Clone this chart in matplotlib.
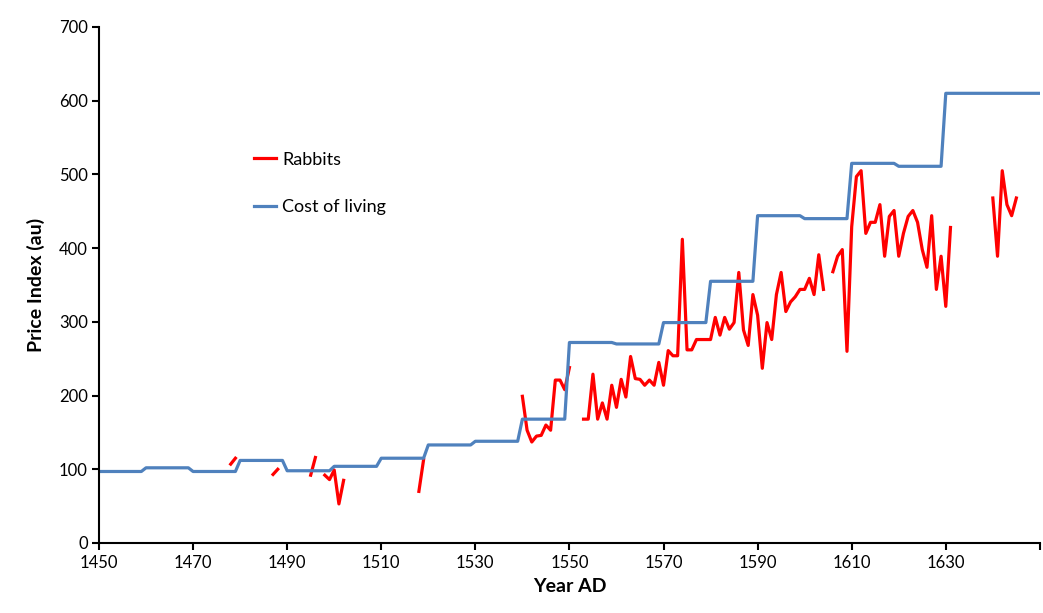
import numpy as np
import matplotlib
matplotlib.use("Agg")
import matplotlib.pyplot as plt

plt.rcParams['font.family'] = ['Lato', 'DejaVu Sans']

# Cost of living index: value held for each decade
cost_decades = [1450, 1460, 1470, 1480, 1490, 1500, 1510, 1520, 1530, 1540,
                1550, 1560, 1570, 1580, 1590, 1600, 1610, 1620, 1630, 1640, 1650]
cost_values = [97, 102, 97, 112, 98, 104, 115, 133, 138, 168,
               272, 270, 299, 355, 444, 440, 515, 511, 610, 610, 610]

# Rabbit price index (years with data; gaps where years are missing)
rabbit_years = [1478, 1479,
                1487, 1488,
                1495, 1496,
                1498, 1499, 1500, 1501, 1502,
                1518, 1519,
                1540, 1541, 1542, 1543, 1544, 1545, 1546, 1547, 1548, 1549, 1550,
                1553, 1554, 1555, 1556, 1557, 1558, 1559, 1560, 1561, 1562,
                1563, 1564, 1565, 1566, 1567, 1568, 1569, 1570, 1571, 1572,
                1573, 1574, 1575, 1576, 1577, 1578, 1579, 1580, 1581, 1582,
                1583, 1584, 1585, 1586, 1587, 1588, 1589, 1590, 1591, 1592,
                1593, 1594, 1595, 1596, 1597, 1598, 1599, 1600, 1601, 1602,
                1603, 1604,
                1606, 1607, 1608, 1609, 1610, 1611, 1612, 1613, 1614, 1615,
                1616, 1617, 1618, 1619, 1620, 1621, 1622, 1623, 1624, 1625,
                1626, 1627, 1628, 1629, 1630, 1631,
                1640, 1641, 1642, 1643, 1644, 1645]
rabbit_values = [107, 115,
                 93, 100,
                 92, 116,
                 92, 86, 99, 53, 85,
                 70, 113,
                 199, 153, 137, 145, 146, 160, 153, 221, 221, 208, 238,
                 168, 168, 229, 168, 190, 168, 214, 184, 222, 198,
                 253, 223, 222, 214, 221, 214, 245, 214, 261, 254,
                 254, 412, 262, 262, 276, 276, 276, 276, 306, 282,
                 306, 290, 299, 367, 289, 268, 337, 309, 237, 299,
                 276, 337, 367, 314, 327, 334, 344, 344, 359, 337,
                 391, 344,
                 368, 389, 398, 260, 429, 497, 505, 420, 435, 435,
                 459, 389, 443, 451, 389, 420, 443, 451, 435, 398,
                 374, 444, 344, 389, 321, 428,
                 468, 389, 505, 459, 444, 468]

x_ticks = [1450, 1470, 1490, 1510, 1530, 1550, 1570, 1590, 1610, 1630, 1650]
x_tick_labels = ['1450', '1470', '1490', '1510', '1530', '1550', '1570',
                 '1590', '1610', '1630', '']
y_ticks = [0, 100, 200, 300, 400, 500, 600, 700]

# build cost step line (value held through each decade, change over one year)
cx, cy = [], []
for i in range(len(cost_decades) - 1):
    cx += [cost_decades[i], cost_decades[i + 1] - 1]
    cy += [cost_values[i], cost_values[i]]
cx.append(cost_decades[-1])
cy.append(cost_values[-1])

# insert breaks in rabbit series where years are missing
rx, ry = [], []
for i, (yr, v) in enumerate(zip(rabbit_years, rabbit_values)):
    if i > 0 and yr - rabbit_years[i - 1] > 1:
        rx.append(np.nan)
        ry.append(np.nan)
    rx.append(yr)
    ry.append(v)

fig = plt.figure(figsize=(10.43, 6.13), dpi=100)
ax = fig.add_axes([0.0949, 0.1142, 0.9021, 0.8418])

ax.plot(rx, ry, color='#FF0000', lw=2.3, label='Rabbits', solid_joinstyle='round')
ax.plot(cx, cy, color='#4F81BD', lw=2.3, label='Cost of living')

ax.set_xlim(1450, 1650)
ax.set_ylim(0, 700)
ax.set_xticks(x_ticks)
ax.set_xticklabels(x_tick_labels)
ax.set_yticks(y_ticks)

for s in ['top', 'right']:
    ax.spines[s].set_visible(False)
for s in ['left', 'bottom']:
    ax.spines[s].set_linewidth(1.5)
    ax.spines[s].set_color('black')
ax.tick_params(axis='both', direction='out', length=5, width=1.5,
               labelsize=12, colors='black')
ax.tick_params(axis='x', pad=4)
ax.tick_params(axis='y', pad=3)

ax.set_xlabel('Year AD', fontsize=14, fontweight='bold', labelpad=5)
ax.set_ylabel('Price Index (au)', fontsize=14, fontweight='bold', labelpad=10)

ax.legend(loc='upper left', bbox_to_anchor=(0.148, 0.79), frameon=False,
          fontsize=13, handlelength=1.2, handletextpad=0.35,
          labelspacing=1.75)

fig.savefig('out.png', dpi=100)
